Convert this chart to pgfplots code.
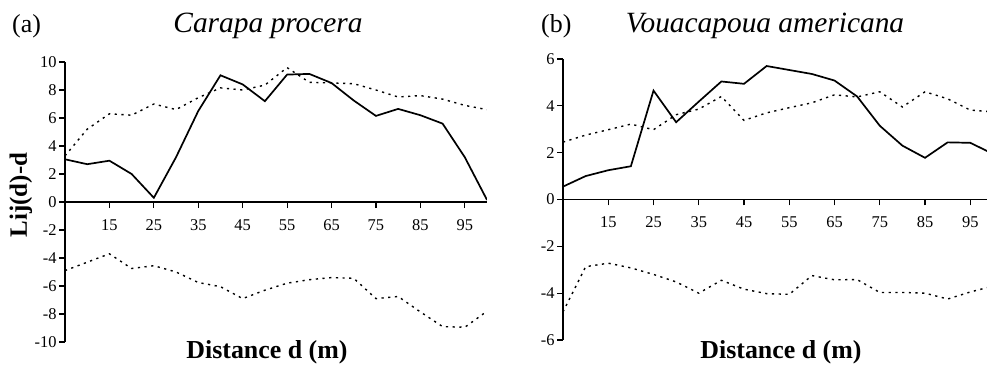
\documentclass[border=0pt]{standalone}
\usepackage{pgfplots}
\pgfplotsset{compat=1.18}
\usepackage{fontspec}
\setmainfont{Liberation Serif}
\begin{document}
\begin{tikzpicture}
\path[use as bounding box] (0bp,0bp) rectangle (987bp,365bp);
\pgfplotsset{
  myax/.style={
    scale only axis,
    axis x line*=middle, axis y line*=left,
    axis line style={line width=1.2bp, black},
    every tick/.style={line width=1.2bp, black},
    tick align=outside,
    major tick length=6bp,
    xtick={15,25,...,95},
    /pgf/number format/assume math mode=true,
    ticklabel style={font=\fontsize{16.5}{16.5}\selectfont},
    xticklabel style={yshift=-8bp},
    yticklabel style={xshift=1bp},
    clip=true,
  },
  solidl/.style={black, line width=1.7bp, line join=miter, mark=none},
  dotl/.style={black, line width=1.4bp, dash pattern=on 2.2bp off 4.5bp, mark=none},
}
\begin{axis}[myax, at={(65bp,23bp)}, anchor=south west, width=422bp, height=280bp,
  xmin=5, xmax=100, ymin=-10, ymax=10, ytick={-10,-8,...,10}]
\addplot[solidl] coordinates {(5,3.05)(10,2.7)(15,2.95)(20,2.0)(25,0.3)(30,3.2)(35,6.5)(40,9.05)(45,8.4)(50,7.2)(55,9.1)(60,9.15)(65,8.5)(70,7.25)(75,6.15)(80,6.65)(85,6.2)(90,5.6)(95,3.2)(100,0.15)};
\addplot[dotl] coordinates {(5,3.3)(10,5.2)(15,6.3)(20,6.2)(25,7.0)(30,6.6)(35,7.45)(40,8.15)(45,8.0)(50,8.35)(55,9.6)(60,8.55)(65,8.5)(70,8.45)(75,8.0)(80,7.5)(85,7.6)(90,7.35)(95,6.9)(100,6.6)};
\addplot[dotl] coordinates {(5,-4.9)(10,-4.3)(15,-3.7)(20,-4.75)(25,-4.55)(30,-5.0)(35,-5.75)(40,-6.05)(45,-6.9)(50,-6.3)(55,-5.8)(60,-5.55)(65,-5.4)(70,-5.45)(75,-6.9)(80,-6.75)(85,-7.85)(90,-8.9)(95,-8.95)(100,-7.8)};
\end{axis}
\begin{axis}[myax, at={(563bp,25bp)}, anchor=south west, width=424bp, height=281bp,
  xmin=5, xmax=98.7, ymin=-6, ymax=6, ytick={-6,-4,...,6}]
\addplot[solidl] coordinates {(5,0.55)(10,1.0)(15,1.25)(20,1.42)(25,4.65)(30,3.3)(35,4.18)(40,5.04)(45,4.94)(50,5.7)(55,5.53)(60,5.36)(65,5.08)(70,4.4)(75,3.15)(80,2.3)(85,1.78)(90,2.44)(95,2.42)(100,1.95)};
\addplot[dotl] coordinates {(5,2.45)(10,2.75)(15,2.98)(20,3.22)(25,2.98)(30,3.62)(35,3.86)(40,4.4)(45,3.38)(50,3.7)(55,3.92)(60,4.13)(65,4.47)(70,4.38)(75,4.6)(80,3.95)(85,4.6)(90,4.3)(95,3.82)(100,3.74)};
\addplot[dotl] coordinates {(5,-4.8)(10,-2.87)(15,-2.72)(20,-2.92)(25,-3.2)(30,-3.52)(35,-4.0)(40,-3.45)(45,-3.83)(50,-4.02)(55,-4.05)(60,-3.25)(65,-3.43)(70,-3.42)(75,-3.97)(80,-3.97)(85,-4.0)(90,-4.25)(95,-3.95)(100,-3.7)};
\end{axis}
\node[anchor=base west, inner sep=0, font=\fontsize{26}{26}\selectfont] at (12bp,332bp) {(a)};
\node[anchor=base, inner sep=0, font=\fontsize{29.5}{29.5}\selectfont\itshape] at (268bp,332bp) {Carapa procera};
\node[anchor=base west, inner sep=0, font=\fontsize{26}{26}\selectfont] at (541bp,332bp) {(b)};
\node[anchor=base, inner sep=0, font=\fontsize{29.5}{29.5}\selectfont\itshape] at (765bp,332bp) {Vouacapoua americana};
\node[inner sep=0, rotate=90, font=\fontsize{25}{25}\selectfont\bfseries] at (21bp,170bp) {Lij(d)-d};
\node[inner sep=0, font=\fontsize{26}{26}\selectfont\bfseries] at (267bp,13bp) {Distance d (m)};
\node[inner sep=0, font=\fontsize{26}{26}\selectfont\bfseries] at (781bp,13bp) {Distance d (m)};
\end{tikzpicture}
\end{document}
